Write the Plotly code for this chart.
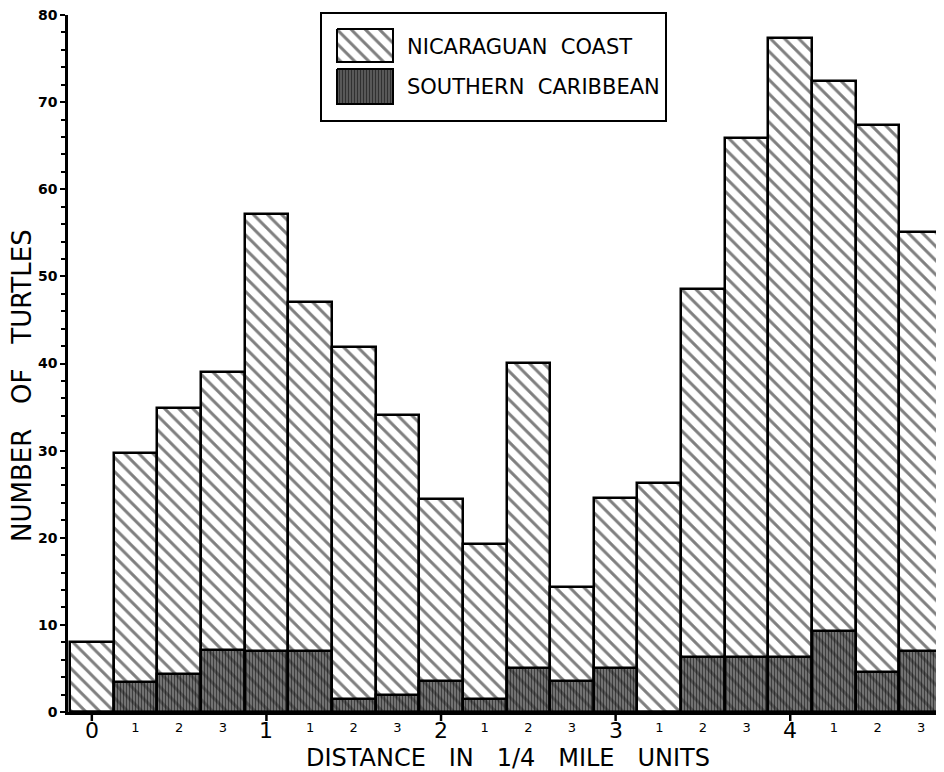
import plotly.graph_objects as go

# ---- data ----
tick_labels = ["0", "1", "2", "3", "1", "1", "2", "3", "2", "1",
               "2", "3", "3", "1", "2", "3", "4", "1", "2", "3"]
nicaraguan = [8.0, 29.7, 34.9, 39.0, 57.2, 47.1, 41.9, 34.1, 24.4, 19.3,
              40.1, 14.3, 24.6, 26.3, 48.6, 65.9, 77.4, 72.4, 67.4, 55.1]
southern = [0, 3.4, 4.4, 7.1, 7.0, 7.0, 1.5, 2.0, 3.6, 1.5,
            5.1, 3.6, 5.0, 0, 6.3, 6.3, 6.3, 9.3, 4.6, 7.0]
mile_positions = [0, 4, 8, 12, 16]
y_ticks = [0, 10, 20, 30, 40, 50, 60, 70, 80]

positions = list(range(len(tick_labels)))
minor_positions = [p for p in positions if p not in mile_positions]

# page body has an 8px margin: build the figure so it fits the window
OFF = 8
WIN_W, WIN_H = 944, 772
W, H = WIN_W - OFF, WIN_H - OFF
# reference pixel geometry (window coordinates)
AX_L, AX_R, AX_T, AX_B = 68, 944, 15, 712
L, R, T, B = AX_L - OFF, WIN_W - AX_R, AX_T - OFF, WIN_H - AX_B
PW, PH = W - L - R, H - T - B

def px(xp):
    return (xp - AX_L) / PW

def py(yp):
    return (AX_B - yp) / PH

FONT = "DejaVu Sans"
HATCH = dict(shape="\\", size=10, solidity=0.3, fgcolor="black", bgcolor="white")
VLINES = dict(shape="|", size=3, solidity=0.45, fgcolor="black",
              bgcolor="rgba(70,70,70,0.7)")

x_range = [-0.5 - 2 / 43.65, 19.5 + 1 / 43.65]

def x_to_paper(v):
    return (v - x_range[0]) / (x_range[1] - x_range[0])

fig = go.Figure()

fig.add_trace(go.Bar(
    x=positions, y=nicaraguan, width=1.0, name="NICARAGUAN COAST",
    marker=dict(color="white", line=dict(color="black", width=2.5), pattern=HATCH),
    showlegend=False, hoverinfo="skip"))

fig.add_trace(go.Bar(
    x=positions, y=southern, width=1.0, name="SOUTHERN CARIBBEAN",
    marker=dict(color="rgba(0,0,0,0)", line=dict(color="black", width=2.5),
                pattern=VLINES),
    showlegend=False, hoverinfo="skip"))

# legend swatches (window-pixel overlay axes)
fig.add_trace(go.Scatter(
    x=[337, 393, 393, 337, 337], y=[29, 29, 62, 62, 29],
    mode="lines", fill="toself", xaxis="x3", yaxis="y3",
    line=dict(color="black", width=2), fillpattern=HATCH,
    showlegend=False, hoverinfo="skip"))
fig.add_trace(go.Scatter(
    x=[337, 393, 393, 337, 337], y=[69, 69, 104, 104, 69],
    mode="lines", fill="toself", xaxis="x3", yaxis="y3",
    line=dict(color="black", width=2),
    fillpattern=dict(shape="|", size=3, solidity=0.45, fgcolor="black",
                     bgcolor="#606060"),
    showlegend=False, hoverinfo="skip"))

# mile labels (large) placed at their bar positions
mile_annotations = [
    dict(text=tick_labels[p], xref="x", yref="paper", x=p, y=py(730),
         xanchor="center", yanchor="middle", showarrow=False,
         font=dict(size=22, family=FONT, color="black"))
    for p in mile_positions
]
# mile tick marks below the axis
mile_ticks = [
    dict(type="line", xref="paper", yref="paper",
         x0=x_to_paper(p), x1=x_to_paper(p),
         y0=py(712), y1=py(721), line=dict(color="black", width=2.5),
         layer="above")
    for p in mile_positions
]

fig.update_layout(
    width=W, height=H,
    margin=dict(l=L, r=R, t=T, b=B),
    paper_bgcolor="white", plot_bgcolor="white",
    barmode="overlay", bargap=0,
    font=dict(family=FONT, color="black"),
    xaxis=dict(range=x_range, tickvals=minor_positions,
               ticktext=[tick_labels[p] for p in minor_positions],
               tickfont=dict(size=13, family=FONT, color="black"),
               ticks="outside", ticklen=2, tickcolor="rgba(0,0,0,0)",
               showline=True, linecolor="black", linewidth=2.5,
               showgrid=False, zeroline=False, fixedrange=True),
    yaxis=dict(range=[0, 80], tickvals=y_ticks, ticklabeloverflow="allow",
               tickfont=dict(size=14, family=FONT, color="black", weight="bold"),
               ticks="outside", ticklen=5, tickwidth=2, tickcolor="black",
               minor=dict(dtick=2, ticks="outside", ticklen=4, tickwidth=1.5,
                          tickcolor="black"),
               showline=True, linecolor="black", linewidth=2.5,
               showgrid=False, zeroline=False),
    xaxis3=dict(range=[AX_L, AX_R], overlaying="x", visible=False, anchor="y3"),
    yaxis3=dict(range=[AX_B, AX_T], overlaying="y", visible=False, anchor="x3"),
    shapes=mile_ticks + [
        dict(type="rect", xref="paper", yref="paper",
             x0=px(321), x1=px(666), y0=py(121), y1=py(13),
             line=dict(color="black", width=2), layer="above")],
    annotations=mile_annotations + [
        dict(text="NICARAGUAN\u00a0\u00a0COAST", xref="x3", yref="y3",
             x=405, y=47, xanchor="left", yanchor="middle", showarrow=False,
             font=dict(size=21, family=FONT, color="black")),
        dict(text="SOUTHERN\u00a0\u00a0CARIBBEAN", xref="x3", yref="y3",
             x=405, y=87, xanchor="left", yanchor="middle", showarrow=False,
             font=dict(size=21, family=FONT, color="black")),
        dict(text="DISTANCE\u00a0\u00a0\u00a0IN\u00a0\u00a0\u00a01/4\u00a0\u00a0\u00a0MILE\u00a0\u00a0\u00a0UNITS",
             xref="paper", yref="paper", x=px(508), y=py(758),
             xanchor="center", yanchor="middle", showarrow=False,
             font=dict(size=24, family=FONT, color="black")),
        dict(text="NUMBER\u00a0\u00a0\u00a0OF\u00a0\u00a0\u00a0TURTLES",
             xref="paper", yref="paper", x=px(22), y=py(386),
             xanchor="center", yanchor="middle", showarrow=False,
             textangle=-90,
             font=dict(size=26, family=FONT, color="black")),
    ],
)

fig.write_html("out.html")
